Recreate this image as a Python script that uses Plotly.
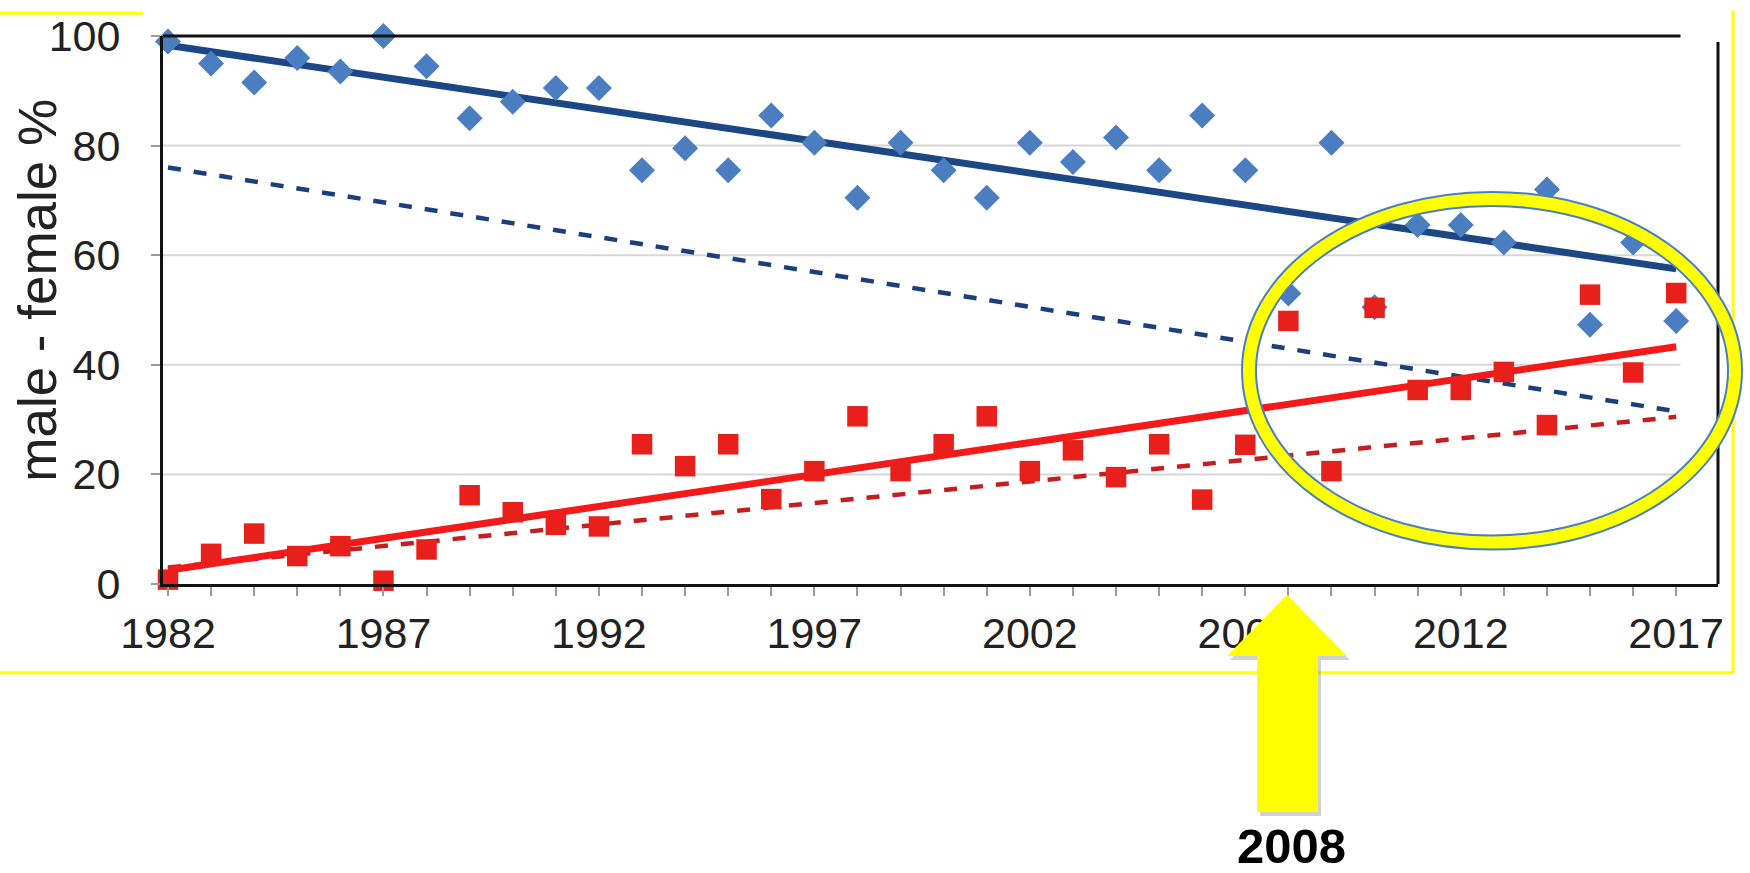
import plotly.graph_objects as go

years = list(range(1982, 2018))

male_pct = [99, 95, 91.5, 96, 93.5, 100, 94.5, 85, 88, 90.5,
            90.5, 75.5, 79.5, 75.5, 85.5, 80.5, 70.5, 80.5, 75.5, 70.5,
            80.5, 77, 81.5, 75.5, 85.5, 75.5, 53, 80.5, 50.5, 65.5,
            65.5, 62.3, 72, 47.3, 62.3, 48]

female_pct = [0.8, 5.5, 9.2, 5.1, 6.9, 0.6, 6.3, 16.2, 13.1, 10.8,
              10.5, 25.5, 21.5, 25.5, 15.5, 20.6, 30.6, 20.6, 25.5, 30.6,
              20.6, 24.4, 19.5, 25.5, 15.4, 25.4, 48, 20.6, 50.4, 35.4,
              35.4, 38.7, 29, 52.8, 38.6, 53.1]

trend_years = [1982, 2017]
male_trend = [98.3, 57.5]
female_trend = [2.5, 43.3]
male_trend_dashed = [76, 31.5]
female_trend_dashed = [3.0, 30.5]

tick_years = list(range(1982, 2018, 5))

# plot area in pixels (full size 1750x873)
L, R, T, B = 163, 1718, 29, 584


def px(x):
    return (x - L) / (R - L)


def py(y):
    return (B - y) / (B - T)


fig = go.Figure()

fig.add_trace(go.Scatter(x=trend_years, y=male_trend_dashed, mode='lines',
                         line=dict(color='#1b3f7d', width=4.5, dash='13px,13px'),
                         cliponaxis=False))
fig.add_trace(go.Scatter(x=trend_years, y=female_trend_dashed, mode='lines',
                         line=dict(color='#c41e1e', width=4.5, dash='13px,13px'),
                         cliponaxis=False))
fig.add_trace(go.Scatter(x=trend_years, y=male_trend, mode='lines',
                         line=dict(color='#1c4785', width=7),
                         cliponaxis=False))
fig.add_trace(go.Scatter(x=trend_years, y=female_trend, mode='lines',
                         line=dict(color='#f41a1a', width=7),
                         cliponaxis=False))

fig.add_trace(go.Scatter(x=years, y=male_pct, mode='markers',
                         marker=dict(symbol='diamond', size=20, color='#4a7ec0',
                                     line=dict(width=0)),
                         cliponaxis=False))
fig.add_trace(go.Scatter(x=years, y=female_pct, mode='markers',
                         marker=dict(symbol='square', size=20.5, color='#e8201c',
                                     line=dict(width=0)),
                         cliponaxis=False))

shapes = []

# plot frame: top line stops at 2017, right border a bit further out
shapes.append(dict(type='line', xref='x', yref='paper', x0=1981.884, x1=2017.1,
                   y0=1, y1=1, line=dict(color='#111111', width=3)))
shapes.append(dict(type='line', xref='paper', yref='paper', x0=1, x1=1,
                   y0=0, y1=py(35), line=dict(color='#111111', width=3)))
for g in [20, 40, 60, 80]:
    shapes.append(dict(type='line', xref='x', yref='y', x0=1981.884, x1=2017.1,
                       y0=g, y1=g, layer='below',
                       line=dict(color='#d6d6d6', width=2)))

# yellow frame lines
frame = dict(color='#ffff00', width=3)
shapes.append(dict(type='line', xref='paper', yref='paper', x0=px(0), x1=px(143),
                   y0=py(6), y1=py(6), line=frame))
shapes.append(dict(type='line', xref='paper', yref='paper', x0=px(0), x1=px(1733),
                   y0=py(674), y1=py(674), line=frame))
shapes.append(dict(type='line', xref='paper', yref='paper', x0=px(1733), x1=px(1733),
                   y0=py(3), y1=py(674), line=frame))

# highlight ellipse: blue edge under yellow ring
ell = dict(type='circle', xref='paper', yref='paper',
           x0=px(1249), x1=px(1735), y0=py(542), y1=py(194))
shapes.append(dict(ell, line=dict(color='#4a7ec0', width=16)))
shapes.append(dict(ell, line=dict(color='#ffff00', width=12)))

# yellow arrow pointing to 2008
arrow_pts = [(1287, 595), (1347, 657), (1318, 657), (1318, 815),
             (1257, 815), (1257, 657), (1227, 657)]
shadow = 'M ' + ' L '.join(f'{px(x + 3):.5f},{py(y + 4):.5f}' for x, y in arrow_pts) + ' Z'
path = 'M ' + ' L '.join(f'{px(x):.5f},{py(y):.5f}' for x, y in arrow_pts) + ' Z'
shapes.append(dict(type='path', xref='paper', yref='paper', path=shadow,
                   fillcolor='rgba(120,120,120,0.35)', line=dict(width=0)))
shapes.append(dict(type='path', xref='paper', yref='paper', path=path,
                   fillcolor='#ffff00', line=dict(width=0)))

fig.update_layout(
    width=1750, height=873,
    margin=dict(l=L, r=1750 - R, t=T, b=873 - B),
    paper_bgcolor='white', plot_bgcolor='white',
    showlegend=False,
    font=dict(family='Liberation Sans, Arial, sans-serif', color='#222222', size=43),
    shapes=shapes,
    annotations=[
        dict(text='male - female %', xref='paper', yref='paper',
             x=px(38), y=py(287), textangle=-90, showarrow=False,
             font=dict(size=53, color='#222222'), xanchor='center', yanchor='middle'),
        dict(text='<b>2008</b>', xref='paper', yref='paper',
             x=px(1291), y=py(849), showarrow=False, borderpad=0,
             font=dict(size=49, color='#000000'), xanchor='center', yanchor='middle'),
    ],
    xaxis=dict(
        range=[1981.884, 2017.97],
        tickmode='array', tickvals=tick_years, ticktext=[str(v) for v in tick_years],
        ticks='outside', ticklen=9, tickwidth=2, tickcolor='#9a9a9a',
        minor=dict(dtick=1, tick0=1982, ticks='outside', ticklen=9,
                   tickwidth=2, tickcolor='#9a9a9a', showgrid=False),
        showline=True, linecolor='#111111', linewidth=3,
        showgrid=False, zeroline=False, ticklabelstandoff=0,
    ),
    yaxis=dict(
        range=[0, 100], tickvals=[0, 20, 40, 60, 80, 100],
        ticks='outside', ticklen=9, tickwidth=2, tickcolor='#9a9a9a',
        showline=True, linecolor='#111111', linewidth=3,
        showgrid=False, zeroline=False, ticklabelstandoff=22,
    ),
)

# drop the default 8px page margin so the figure sits at the window's corner
fig.write_html("out.html", config={'displayModeBar': False},
               post_script="document.body.style.margin='0px';")
